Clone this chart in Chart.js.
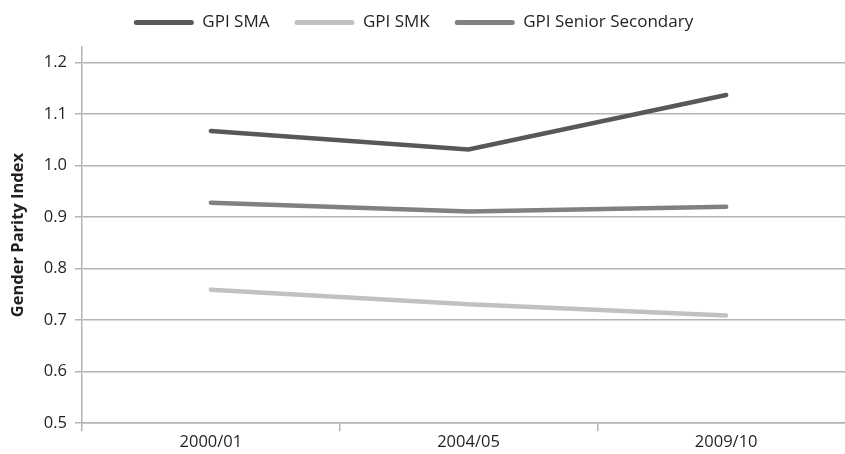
<!DOCTYPE html>
<html>
<head>
<meta charset="utf-8">
<script src="https://cdn.jsdelivr.net/npm/chart.js@4"></script>
<style>
  html, body { margin: 0; padding: 0; background: #fff; overflow: hidden; }
  #wrap { width: 856px; height: 454px; position: relative; }
</style>
</head>
<body>
<div id="wrap"><canvas id="gpiChart"></canvas></div>
<script>
'use strict';

// 年度
const years = ['2000/01', '2004/05', '2009/10'];
// 各系列の値
const gpiSMA = [1.067, 1.031, 1.137];
const gpiSMK = [0.759, 0.731, 0.709];
const gpiSenior = [0.928, 0.911, 0.920];
// 目盛り
const yTicks = [0.5, 0.6, 0.7, 0.8, 0.9, 1.0, 1.1, 1.2];

const FONT = '"Open Sans", "Noto Sans", sans-serif';
const FONT_SIZE = 16.5;
const TEXT_COLOR = '#231f20';
const GRID_COLOR = '#b4b4b6';

function makeSeries(label, data, color) {
    return {
        label: label,
        data: data,
        borderColor: color,
        backgroundColor: color,
        borderWidth: 4.5,
        borderCapStyle: 'round',
        borderJoinStyle: 'miter',
        pointRadius: 0,
        tension: 0,
        fill: false
    };
}

// 凡例の下の余白と横位置を調整
const legendGap = {
    id: 'legendGap',
    beforeUpdate(chart) {
        const legend = chart.legend;
        if (!legend || legend._adjusted) return;
        const fit = legend.fit;
        legend.fit = function () {
            fit.call(this);
            this.height += 6;
        };
        legend._adjusted = true;
    },
    afterLayout(chart) {
        // 少し左寄せ
        chart.legend.right -= 36;
    }
};

const ctx = document.getElementById('gpiChart');
new Chart(ctx, {
    type: 'line',
    data: {
        labels: years,
        datasets: [
            makeSeries('GPI SMA', gpiSMA, '#58585a'),
            makeSeries('GPI SMK', gpiSMK, '#c1c1c3'),
            makeSeries('GPI Senior Secondary', gpiSenior, '#808083')
        ]
    },
    plugins: [legendGap],
    options: {
        responsive: true,
        maintainAspectRatio: false,
        animation: false,
        layout: { padding: { top: -11, left: 8, right: 1, bottom: 1 } },
        plugins: {
            tooltip: { enabled: false },
            legend: {
                position: 'top',
                labels: {
                    boxWidth: 60,
                    boxHeight: 5,
                    useBorderRadius: true,
                    borderRadius: 2.5,
                    padding: 25,
                    color: TEXT_COLOR,
                    font: { family: FONT, size: 17 },
                    generateLabels(chart) {
                        const items = Chart.defaults.plugins.legend.labels.generateLabels(chart);
                        items.forEach(item => { item.lineWidth = 0; });
                        return items;
                    }
                }
            }
        },
        scales: {
            x: {
                offset: true,
                grid: {
                    offset: true,
                    drawOnChartArea: false,
                    drawTicks: true,
                    tickLength: 8,
                    color: GRID_COLOR,
                    lineWidth: 1.5
                },
                border: { color: GRID_COLOR, width: 1.5 },
                ticks: {
                    color: TEXT_COLOR,
                    padding: 1,
                    maxRotation: 0,
                    font: { family: FONT, size: FONT_SIZE }
                }
            },
            y: {
                min: 0.5,
                max: 1.23,
                afterBuildTicks(axis) {
                    axis.ticks = yTicks.map(v => ({ value: v }));
                },
                grid: {
                    color: GRID_COLOR,
                    lineWidth: 1.5,
                    tickLength: 7
                },
                border: { color: GRID_COLOR, width: 1.5 },
                ticks: {
                    color: TEXT_COLOR,
                    padding: 8,
                    font: { family: FONT, size: FONT_SIZE },
                    callback: value => value.toFixed(1)
                },
                title: {
                    display: true,
                    text: 'Gender Parity Index',
                    color: TEXT_COLOR,
                    padding: { top: 0, bottom: 8 },
                    font: { family: FONT, size: FONT_SIZE, weight: 'bold' }
                }
            }
        }
    }
});
</script>
</body>
</html>
